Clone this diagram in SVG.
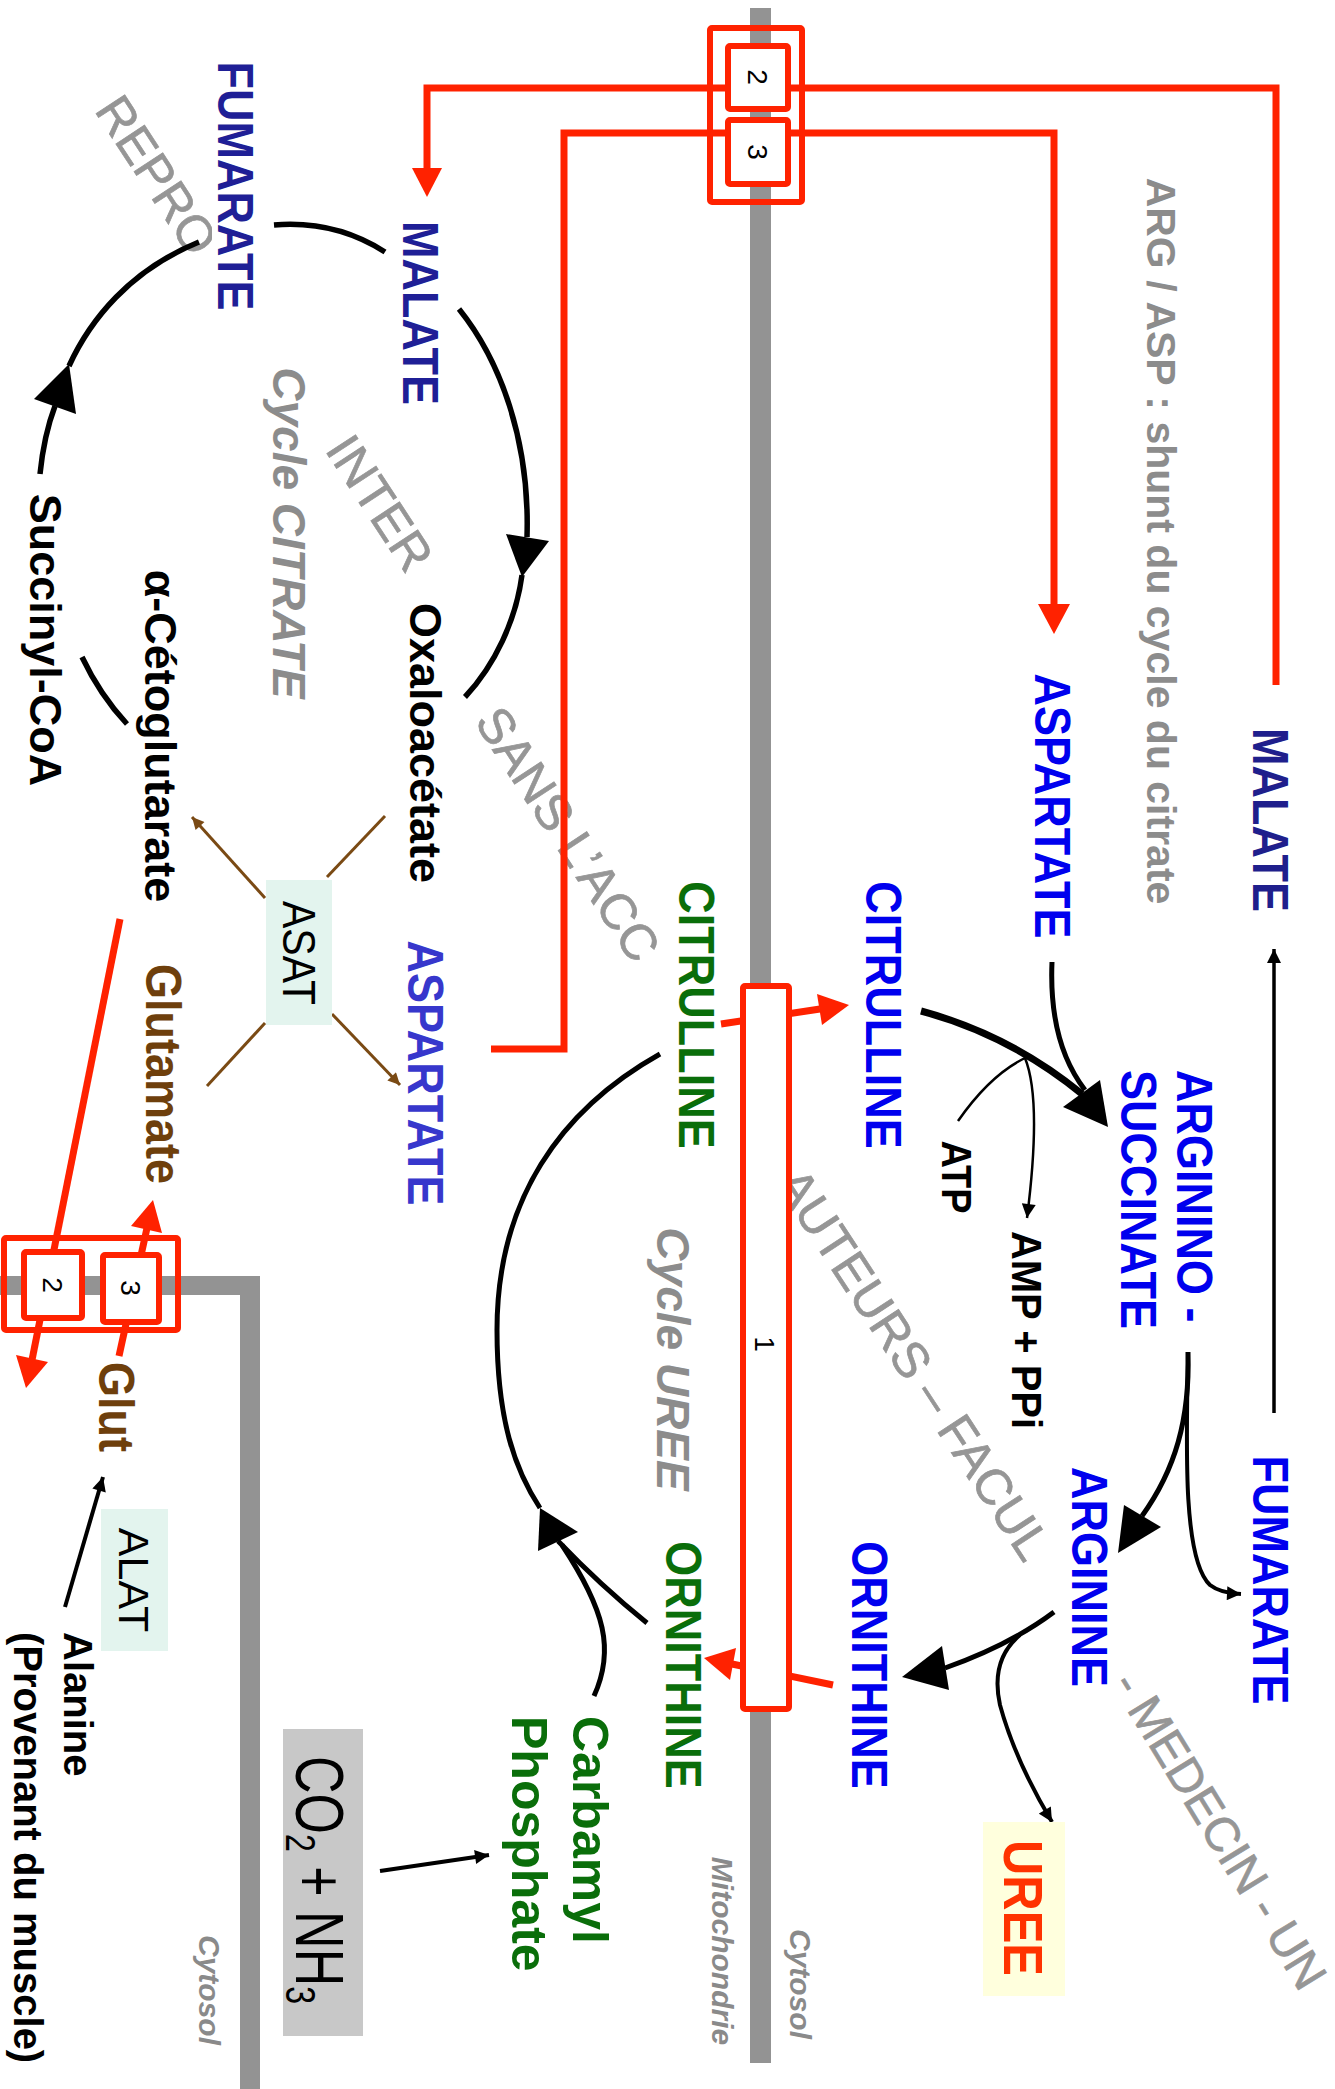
<svg xmlns="http://www.w3.org/2000/svg" width="1335" height="2089" viewBox="0 0 1335 2089">
<style>
text{font-family:"Liberation Sans",Arial,Helvetica,sans-serif}
.b{font-weight:bold}
.it{font-style:italic;font-weight:bold}
.lab{font-size:45px;font-weight:bold}
.wm{font-size:50px;fill:#969696;stroke:#969696;stroke-width:0.7}
.blk{fill:none;stroke:#000;stroke-linecap:butt}
.red{fill:none;stroke:#ff2200;stroke-width:7}
.redbox{fill:#fff;stroke:#ff2200;stroke-width:6}
.redo{fill:none;stroke:#ff2200;stroke-width:6}
.mem{fill:#939393}
.br{fill:none;stroke:#7a4a14;stroke-width:3}
</style>
<defs>
<marker id="ak" viewBox="0 0 10 10" refX="10" refY="5" markerWidth="16" markerHeight="14" markerUnits="userSpaceOnUse" orient="auto"><path d="M0,0 L10,5 L0,10 z" fill="#000"/></marker>
<marker id="abr" viewBox="0 0 10 10" refX="10" refY="5" markerWidth="14" markerHeight="12" markerUnits="userSpaceOnUse" orient="auto"><path d="M0,0 L10,5 L0,10 z" fill="#7a4a14"/></marker>
</defs>
<rect width="1335" height="2089" fill="#fff"/>

<!-- watermark -->
<g id="watermark" class="wm" text-anchor="middle">
<text transform="translate(157,175) rotate(56.8)" dy="0.35em">REPRO</text>
<text transform="translate(380,503) rotate(56.8)" dy="0.35em">INTER</text>
<text transform="translate(568,834) rotate(56.8)" dy="0.35em">SANS L’ACC</text>
<text transform="translate(914,1364) rotate(56.8)" dy="0.35em">AUTEURS – FACUL</text>
<text transform="translate(1220,1830) rotate(58.5)" dy="0.35em" font-size="48">- MEDECIN - UN</text>
</g>

<!-- membranes -->
<g id="membranes">
<rect class="mem" x="750" y="8" width="21" height="2055"/>
<rect class="mem" x="0" y="1276" width="260" height="19"/>
<rect class="mem" x="240" y="1276" width="20" height="813"/>
</g>

<!-- connectors -->
<g id="connectors">
<!-- TCA cycle -->
<path class="blk" stroke-width="5.5" d="M274,225 Q335,220 385,252"/>
<path class="blk" stroke-width="5.5" d="M459,309 C500,360 530,440 527,537"/>
<path class="blk" stroke-width="5.5" d="M522,575 C516,620 495,665 465,697"/>
<polygon points="522,577 506,534 549,541" fill="#000"/>
<path class="blk" stroke-width="5.5" d="M40,474 Q44,435 55,406"/>
<path class="blk" stroke-width="5.5" d="M69,366 C90,320 130,270 199,242"/>
<polygon points="69,364 34,399 76,414" fill="#000"/>
<path class="blk" stroke-width="5.5" d="M82,657 Q100,695 127,724"/>

<!-- ASAT -->
<path class="br" d="M385,816 L327,877"/>
<path class="br" d="M265,898 L192,817" marker-end="url(#abr)"/>
<path class="br" d="M207,1086 L265,1023"/>
<path class="br" d="M332,1014 L400,1085" marker-end="url(#abr)"/>

<!-- urea cycle -->
<path class="blk" stroke-width="5" d="M660,1054 C560,1110 497,1200 497,1330 C497,1420 515,1470 540,1508"/>
<path class="blk" stroke-width="5" d="M647,1623 Q600,1585 558,1541"/>
<path class="blk" stroke-width="5" d="M594,1696 C615,1650 605,1610 562,1545"/>
<polygon points="540,1508 538,1551 578,1532" fill="#000"/>

<path class="blk" stroke-width="7" d="M921,1011 Q1010,1035 1082,1094"/>
<path class="blk" stroke-width="5" d="M1052,962 C1050,1010 1058,1055 1085,1090"/>
<polygon points="1108,1127 1063,1107 1100,1080" fill="#000"/>
<path class="blk" stroke-width="2.5" d="M958,1121 Q990,1075 1025,1058 Q1042,1100 1027,1218" marker-end="url(#ak)"/>

<path class="blk" stroke-width="5" d="M1188,1352 C1190,1420 1175,1470 1142,1516"/>
<polygon points="1118,1553 1124,1505 1161,1527" fill="#000"/>
<path class="blk" stroke-width="4" d="M1188,1352 C1186,1450 1183,1560 1210,1585 Q1220,1593 1241,1594" marker-end="url(#ak)"/>

<path class="blk" stroke-width="5" d="M1054,1612 Q1010,1645 945,1668"/>
<polygon points="902,1677 942,1646 949,1690" fill="#000"/>
<path class="blk" stroke-width="4" d="M1020,1635 Q990,1660 1000,1705 Q1015,1760 1052,1822" marker-end="url(#ak)"/>

<path class="blk" stroke-width="3.5" d="M1274,1413 L1274,949" marker-end="url(#ak)"/>
<path class="blk" stroke-width="4" d="M380,1871 L489,1855" marker-end="url(#ak)"/>
<path class="blk" stroke-width="4" d="M65,1607 L103,1477" marker-end="url(#ak)"/>

<!-- red transport lines -->
<path class="red" d="M1276,685 L1276,88 L427,88 L427,170"/>
<polygon points="427,197 412,168 442,168" fill="#ff2200"/>
<path class="red" d="M491,1049 L564,1049 L564,133 L1054,133 L1054,606"/>
<polygon points="1054,634 1038,604 1070,604" fill="#ff2200"/>
<path class="red" d="M721,1024 L820,1009"/>
<polygon points="849,1005 817,994 822,1025" fill="#ff2200"/>
<path class="red" d="M833,1685 L732,1664"/>
<polygon points="704,1658 736,1648 730,1680" fill="#ff2200"/>
<path class="red" d="M120,919 L32,1360"/>
<polygon points="26,1388 16,1355 48,1362" fill="#ff2200"/>
<path class="red" d="M119,1356 L147,1228"/>
<polygon points="153,1200 131,1226 162,1233" fill="#ff2200"/>
</g>

<!-- transporters -->
<g id="transporter-top">
<rect class="redo" x="710" y="28" width="92" height="174" rx="2"/>
<rect class="redbox" x="728" y="46" width="60" height="63" rx="2"/>
<rect class="redbox" x="728" y="120" width="60" height="64" rx="2"/>
<text transform="translate(758,77) rotate(90)" text-anchor="middle" dy="0.35em" font-size="28">2</text>
<text transform="translate(758,152) rotate(90)" text-anchor="middle" dy="0.35em" font-size="28">3</text>
</g>
<g id="transporter-1">
<rect class="redbox" x="743" y="986" width="46" height="723" rx="2"/>
<text transform="translate(765,1344) rotate(90)" text-anchor="middle" dy="0.35em" font-size="28">1</text>
</g>
<g id="transporter-bottom">
<rect class="redo" x="4" y="1238" width="174" height="92" rx="2"/>
<rect class="redbox" x="24" y="1252" width="58" height="66" rx="2"/>
<rect class="redbox" x="103" y="1255" width="56" height="67" rx="2"/>
<text transform="translate(53,1285) rotate(90)" text-anchor="middle" dy="0.35em" font-size="28">2</text>
<text transform="translate(131,1288) rotate(90)" text-anchor="middle" dy="0.35em" font-size="28">3</text>
</g>

<!-- nodes -->
<g id="n-fumarate-l"><rect x="212" y="54" width="48" height="266" fill="#fff"/><text class="lab" fill="#1f1f96" text-anchor="middle" dy="0.35em" transform="translate(236,186) rotate(90) scale(1,1.12)">FUMARATE</text></g>
<g id="n-malate-l"><text class="lab" fill="#1f1f96" text-anchor="middle" dy="0.35em" transform="translate(421,313) rotate(90) scale(1,1.12)">MALATE</text></g>
<g id="n-oxalo"><text class="lab" fill="#000" text-anchor="middle" dy="0.35em" transform="translate(426,743) rotate(90)">Oxaloacétate</text></g>
<g id="n-aspartate-l"><text class="lab" fill="#3737cc" text-anchor="middle" dy="0.35em" transform="translate(426,1073) rotate(90) scale(1,1.12)">ASPARTATE</text></g>
<g id="n-akg"><text class="lab" fill="#000" text-anchor="middle" dy="0.35em" transform="translate(161,736) rotate(90)">α-Cétoglutarate</text></g>
<g id="n-succinyl"><text class="lab" fill="#000" text-anchor="middle" dy="0.35em" transform="translate(46,640) rotate(90)">Succinyl-CoA</text></g>
<g id="n-glutamate"><text class="lab" fill="#6e3f0c" text-anchor="middle" dy="0.35em" transform="translate(163,1074) rotate(90) scale(1,1.1)">Glutamate</text></g>
<g id="n-cycle-citrate"><text class="it" font-size="46" fill="#8c8c8c" text-anchor="middle" dy="0.35em" transform="translate(289,533) rotate(90)">Cycle CITRATE</text></g>
<g id="n-asat"><rect x="266" y="880" width="66" height="145" fill="#e3f4ee"/><text font-size="41" fill="#000" text-anchor="middle" dy="0.35em" transform="translate(299,953) rotate(90) scale(1,1.12)">ASAT</text></g>
<g id="n-citrulline-m"><text class="lab" fill="#0a6e0a" text-anchor="middle" dy="0.35em" transform="translate(697,1015) rotate(90) scale(1,1.12)">CITRULLINE</text></g>
<g id="n-citrulline-c"><text class="lab" fill="#0000ee" text-anchor="middle" dy="0.35em" transform="translate(884,1015) rotate(90) scale(1,1.12)">CITRULLINE</text></g>
<g id="n-aspartate-r"><text class="lab" fill="#0000ee" text-anchor="middle" dy="0.35em" transform="translate(1053,806) rotate(90) scale(1,1.12)">ASPARTATE</text></g>
<g id="n-shunt"><text class="b" font-size="41" fill="#8c8c8c" text-anchor="middle" dy="0.35em" transform="translate(1161,541) rotate(90)">ARG / ASP : shunt du cycle du citrate</text></g>
<g id="n-malate-r"><text class="lab" fill="#1f1f8c" text-anchor="middle" dy="0.35em" transform="translate(1271,820) rotate(90) scale(1,1.12)">MALATE</text></g>
<g id="n-argsucc"><text class="lab" fill="#0000ee" dy="0.35em" transform="translate(1195,1070) rotate(90) scale(1,1.12)">ARGININO -</text><text class="lab" fill="#0000ee" dy="0.35em" transform="translate(1139,1070) rotate(90) scale(1,1.12)">SUCCINATE</text></g>
<g id="n-atp"><text class="b" font-size="38" fill="#000" text-anchor="middle" dy="0.35em" transform="translate(957,1177) rotate(90) scale(1,1.12)">ATP</text></g>
<g id="n-amp"><text class="b" font-size="40" fill="#000" text-anchor="middle" dy="0.35em" transform="translate(1027,1330) rotate(90) scale(1,1.08)">AMP + PPi</text></g>
<g id="n-arginine"><text class="lab" fill="#0000ee" text-anchor="middle" dy="0.35em" transform="translate(1090,1577) rotate(90) scale(1,1.12)">ARGININE</text></g>
<g id="n-fumarate-r"><text class="lab" fill="#0000ee" text-anchor="middle" dy="0.35em" transform="translate(1271,1580) rotate(90) scale(1,1.12)">FUMARATE</text></g>
<g id="n-ornithine-c"><text class="lab" fill="#0000ee" text-anchor="middle" dy="0.35em" transform="translate(870,1665) rotate(90) scale(1,1.12)">ORNITHINE</text></g>
<g id="n-ornithine-m"><text class="lab" fill="#0a6e0a" text-anchor="middle" dy="0.35em" transform="translate(684,1665) rotate(90) scale(1,1.12)">ORNITHINE</text></g>
<g id="n-cycle-uree"><text class="it" font-size="46" fill="#8c8c8c" text-anchor="middle" dy="0.35em" transform="translate(673,1359) rotate(90)">Cycle UREE</text></g>
<g id="n-uree"><rect x="983" y="1822" width="82" height="174" fill="#ffffdd"/><text class="b" font-size="49" fill="#ff3300" text-anchor="middle" dy="0.35em" transform="translate(1023,1908) rotate(90) scale(1,1.12)">UREE</text></g>
<g id="n-carbamyl"><text class="b" font-size="50" fill="#0a6e0a" dy="0.35em" transform="translate(590,1716) rotate(90)">Carbamyl</text><text class="b" font-size="50" fill="#0a6e0a" dy="0.35em" transform="translate(529,1716) rotate(90)">Phosphate</text></g>
<g id="n-co2"><rect x="283" y="1729" width="80" height="307" fill="#c8c8c8"/><text font-size="52" fill="#000" text-anchor="middle" dy="0.35em" transform="translate(320,1880) rotate(90) scale(1,1.3)">CO<tspan font-size="32" dy="8">2</tspan><tspan dy="-8"> + NH</tspan><tspan font-size="32" dy="8">3</tspan></text></g>
<g id="n-glut"><text class="lab" fill="#6e3f0c" text-anchor="middle" dy="0.35em" transform="translate(116,1407) rotate(90) scale(1,1.1)">Glut</text></g>
<g id="n-alat"><rect x="101" y="1509" width="67" height="142" fill="#e3f4ee"/><text font-size="43" fill="#000" text-anchor="middle" dy="0.35em" transform="translate(134,1580) rotate(90)">ALAT</text></g>
<g id="n-alanine"><text class="b" font-size="40" fill="#000" dy="0.35em" transform="translate(78,1632) rotate(90)">Alanine</text><text class="b" font-size="40" fill="#000" dy="0.35em" transform="translate(28,1632) rotate(90)">(Provenant du muscle)</text></g>
<g id="n-cytosol-l"><text class="it" font-size="30" fill="#8a8a8a" text-anchor="middle" dy="0.35em" transform="translate(209,1990) rotate(90)">Cytosol</text></g>
<g id="n-mito"><text class="it" font-size="30" fill="#8a8a8a" text-anchor="middle" dy="0.35em" transform="translate(722,1951) rotate(90)">Mitochondrie</text></g>
<g id="n-cytosol-r"><text class="it" font-size="30" fill="#8a8a8a" text-anchor="middle" dy="0.35em" transform="translate(800,1984) rotate(90)">Cytosol</text></g>
</svg>
